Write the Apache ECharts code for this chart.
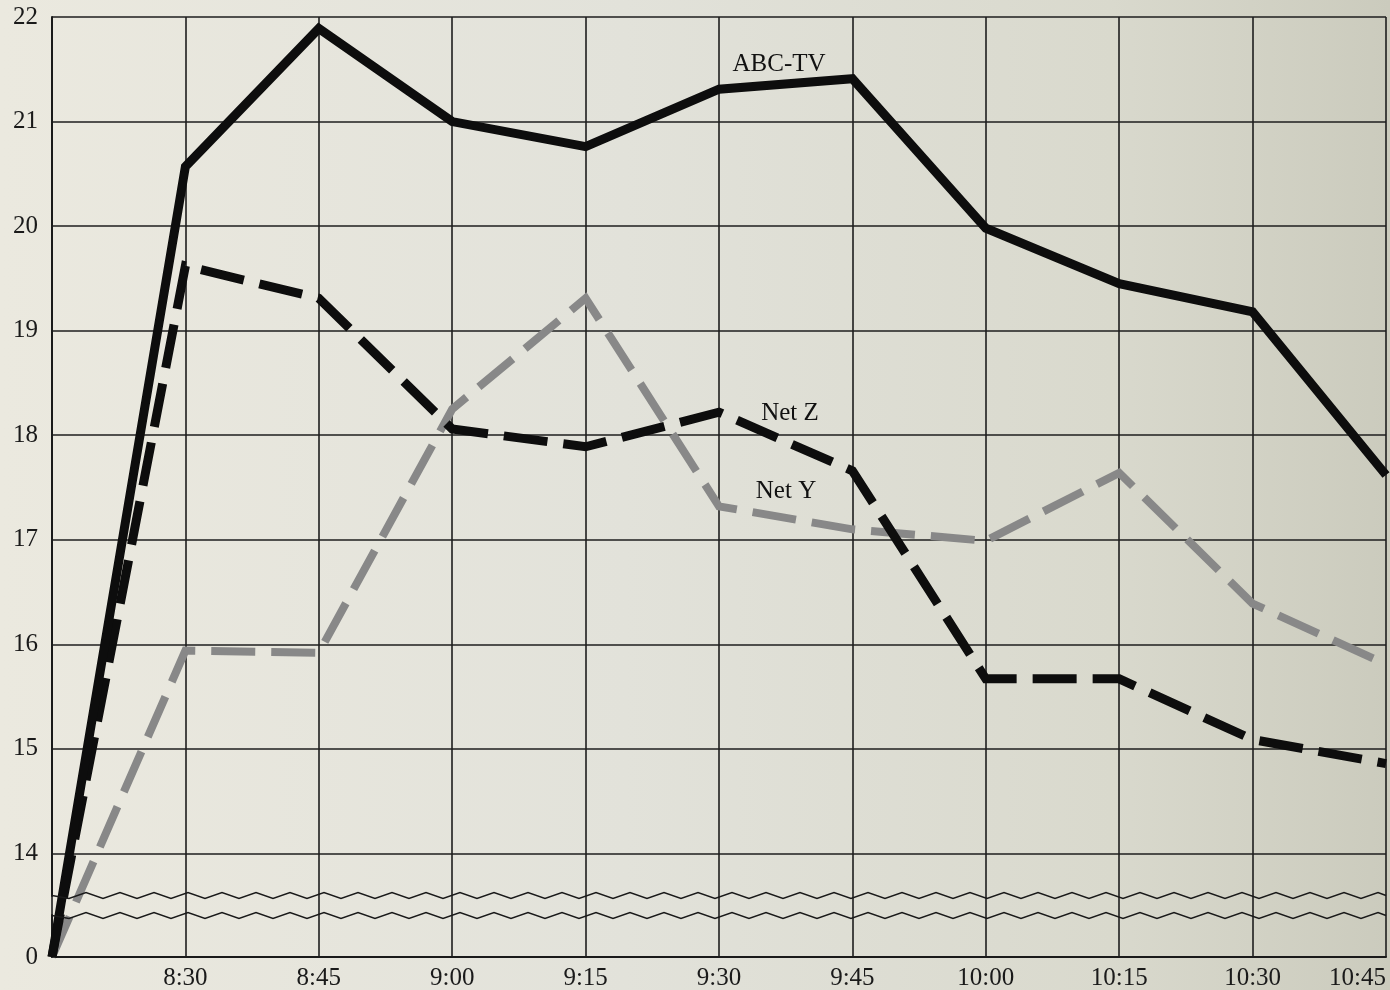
<!DOCTYPE html>
<html>
<head>
<meta charset="utf-8">
<script src="https://cdn.jsdelivr.net/npm/echarts@6/dist/echarts.min.js"></script>
<style>
  html, body { margin: 0; padding: 0; }
  #chart { width: 1390px; height: 990px; }
</style>
</head>
<body>
<div id="chart"></div>
<script>
// ---- data ----
const categories = ['8:15', '8:30', '8:45', '9:00', '9:15', '9:30', '9:45', '10:00', '10:15', '10:30', '10:45'];
const xTickLabels = ['', '8:30', '8:45', '9:00', '9:15', '9:30', '9:45', '10:00', '10:15', '10:30', '10:45'];
const yTickValues = [0, 14, 15, 16, 17, 18, 19, 20, 21, 22];
const abcTV = [0, 20.57, 21.89, 21.0, 20.76, 21.31, 21.41, 19.98, 19.45, 19.18, 17.62];
const netZ  = [0, 19.62, 19.31, 18.06, 17.89, 18.22, 17.66, 15.67, 15.67, 15.09, 14.86];
const netY  = [0, 15.94, 15.92, 18.25, 19.31, 17.32, 17.10, 16.99, 17.64, 16.39, 15.81];
const seriesNames = ['ABC-TV', 'Net Z', 'Net Y'];

const serif = 'Liberation Serif';
const labelAt = '9:30';
const labelIdx = categories.indexOf(labelAt);

function nameMark(values, name, offset) {
  return {
    symbol: 'circle',
    symbolSize: 1,
    silent: true,
    itemStyle: { color: 'rgba(0,0,0,0)' },
    data: [{
      coord: [labelAt, values[labelIdx]],
      label: {
        show: true, formatter: name, position: 'inside', offset: offset,
        color: '#111', fontFamily: serif, fontSize: 25
      }
    }]
  };
}

const chart = echarts.init(document.getElementById('chart'));
chart.setOption({
  animation: false,
  backgroundColor: {
    type: 'linear', x: 0, y: 0, x2: 1, y2: 0,
    colorStops: [
      { offset: 0, color: '#ebe9df' },
      { offset: 0.45, color: '#e2e2da' },
      { offset: 0.8, color: '#d9d9cd' },
      { offset: 1, color: '#cbcbbd' }
    ]
  },
  grid: { left: 52, right: 4, top: 17, bottom: 33, containLabel: false, outerBoundsMode: 'none' },
  xAxis: {
    type: 'category',
    data: categories,
    boundaryGap: false,
    axisLine: { show: true, lineStyle: { color: '#1a1a1a', width: 2 } },
    axisTick: { show: false },
    axisLabel: {
      interval: 0,
      margin: 9,
      color: '#1a1a1a', fontFamily: serif, fontSize: 25,
      alignMaxLabel: 'right',
      formatter: function (v, i) { return xTickLabels[i]; }
    },
    splitLine: { show: true, lineStyle: { color: '#1e1e1e', width: 1.6 } }
  },
  yAxis: {
    type: 'value',
    min: 0, max: 22, interval: 1,
    breaks: [{ start: 0.4, end: 13.6, gap: 0.19 }],
    breakArea: {
      show: true,
      itemStyle: { color: 'rgba(0,0,0,0)', borderColor: '#1a1a1a', borderWidth: 1.5, borderType: 'solid', opacity: 1 },
      zigzagAmplitude: 3,
      zigzagMinSpan: 17,
      zigzagMaxSpan: 17,
      zigzagZ: 100,
      expandOnClick: false
    },
    axisLine: { show: true, lineStyle: { color: '#1a1a1a', width: 2 } },
    axisTick: { show: false, customValues: yTickValues },
    axisLabel: {
      margin: 14,
      hideOverlap: false,
      customValues: yTickValues,
      color: '#1a1a1a', fontFamily: serif, fontSize: 25,
      formatter: function (v) { return String(v); }
    },
    splitLine: { show: true, lineStyle: { color: '#1e1e1e', width: 1.6 } }
  },
  series: [
    {
      name: seriesNames[0], type: 'line', data: abcTV,
      symbol: 'none', z: 5,
      lineStyle: { color: '#0d0d0d', width: 9, join: 'miter' },
      markPoint: nameMark(abcTV, seriesNames[0], [60, -25])
    },
    {
      name: seriesNames[1], type: 'line', data: netZ,
      symbol: 'none', z: 4,
      lineStyle: { color: '#0d0d0d', width: 9, type: [44, 16], cap: 'butt', join: 'miter' },
      markPoint: nameMark(netZ, seriesNames[1], [71, 1])
    },
    {
      name: seriesNames[2], type: 'line', data: netY,
      symbol: 'none', z: 3,
      lineStyle: { color: '#888888', width: 8, type: [44, 16], cap: 'butt', join: 'miter' },
      markPoint: nameMark(netY, seriesNames[2], [67, -15])
    }
  ]
});
</script>
</body>
</html>
